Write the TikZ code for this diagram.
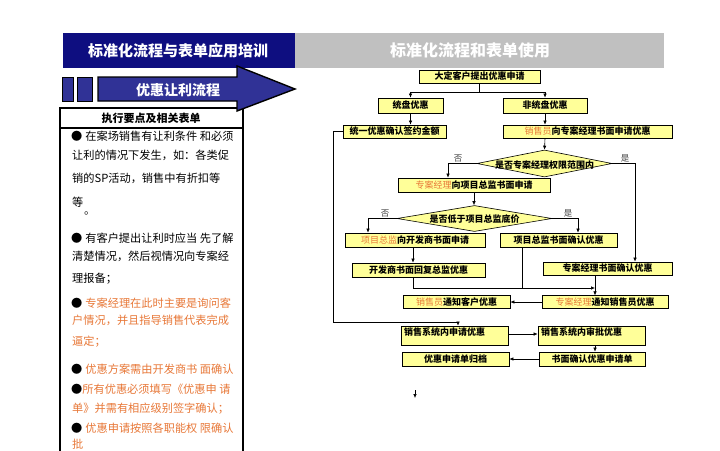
\documentclass[tikz,border=0pt]{standalone}
\usepackage{fontspec}
\setmainfont{Noto Sans CJK SC}
\usetikzlibrary{arrows.meta,shapes.geometric}
\definecolor{hdrblue}{RGB}{14,14,128}
\definecolor{arrblue}{RGB}{48,50,150}
\definecolor{hdrgray}{RGB}{192,192,192}
\definecolor{boxyellow}{RGB}{255,255,153}
\definecolor{hlorange}{RGB}{232,120,56}
\begin{document}
\begin{tikzpicture}[x=1pt,y=-1pt,
  fbox/.style={draw=black, line width=0.7pt, fill=boxyellow, inner sep=0pt,
    font=\fontsize{9}{10}\selectfont\bfseries},
  fdia/.style={diamond, draw=black, line width=0.6pt, fill=boxyellow, inner sep=0pt},
  dtext/.style={font=\fontsize{9}{10}\selectfont\bfseries},
  yn/.style={font=\fontsize{8.5}{9}\selectfont, text=black!75},
  arr/.style={line width=0.6pt, -{Latex[length=4pt,width=3.5pt]}},
  ln/.style={line width=0.6pt},
  ptext/.style={anchor=west, inner sep=0pt, font=\fontsize{11.2}{12}\selectfont},
  hl/.style={text=hlorange}]
\useasboundingbox (0,0) rectangle (720,450);
\fill[white] (0,0) rectangle (720,450);

% headers
\fill[hdrblue] (63,33) rectangle (295,68);
\fill[hdrgray] (295,33) rectangle (664,68);
\node[text=white, font=\fontsize{15}{16}\selectfont\bfseries] (h1) at (178,51) {标准化流程与表单应用培训};
\node[text=white, font=\fontsize{16}{17}\selectfont\bfseries] (h2) at (470,50) {标准化流程和表单使用};

% left panel
\draw[line width=2pt] (60,108) rectangle (243,455);
\draw[line width=1.5pt] (60,128) -- (243,128);
\node[font=\fontsize{11}{12}\selectfont\bfseries] (ph) at (151,118) {执行要点及相关表单};

% squares and arrow
\draw[fill=arrblue, line width=1pt] (62,77) rectangle (73,101);
\draw[fill=arrblue, line width=1pt] (77,77) rectangle (92,101);
\draw[fill=arrblue, line width=1.4pt, line join=miter]
  (98,77) -- (237,77) -- (237,66) -- (295,89) -- (237,111) -- (237,101) -- (98,101) -- cycle;
\node[text=white, font=\fontsize{14}{15}\selectfont\bfseries] (at) at (178,90) {优惠让利流程};

% panel text
\node[ptext] (t1) at (71,136) {●\hspace{3pt}在案场销售有让利条件 和必须};
\node[ptext] (t2) at (72,155) {让利的情况下发生，如：各类促};
\node[ptext] (t3) at (72,178) {销的SP活动，销售中有折扣等};
\node[ptext] (t4) at (72,202) {等};
\node[ptext] (t4b) at (84,213) {。};
\node[ptext] (t5) at (71,238) {●\hspace{3pt}有客户提出让利时应当 先了解};
\node[ptext] (t6) at (72,256) {清楚情况，然后视情况向专案经};
\node[ptext] (t7) at (72,279) {理报备；};
\node[ptext] (t8) at (71,303) {●\hspace{3pt}\textcolor{hlorange}{专案经理在此时主要是询问客}};
\node[ptext,hl] (t9) at (72,320) {户情况，并且指导销售代表完成};
\node[ptext,hl] (t10) at (72,342) {逼定；};
\node[ptext] (t11) at (71,369) {●\hspace{3pt}\textcolor{hlorange}{优惠方案需由开发商书 面确认}};
\node[ptext] (t12) at (71,389) {●\textcolor{hlorange}{所有优惠必须填写《优惠申 请}};
\node[ptext,hl] (t13) at (72,409) {单》并需有相应级别签字确认；};
\node[ptext] (t14) at (71,428) {●\hspace{3pt}\textcolor{hlorange}{优惠申请按照各职能权 限确认}};
\node[ptext,hl] (t15) at (72,444) {批};

% flowchart nodes
\node[fbox, minimum width=121pt, minimum height=13pt] (top) at (479.5,76.5) {大定客户提出优惠申请};
\node[fbox, minimum width=65pt, minimum height=15pt] (tp) at (410.5,105.5) {统盘优惠};
\node[fbox, minimum width=84pt, minimum height=15pt] (ntp) at (545,105.5) {非统盘优惠};
\node[fbox, minimum width=103pt, minimum height=13pt] (ty) at (394.5,131.5) {统一优惠确认签约金额};
\node[fbox, minimum width=169pt, minimum height=13pt] (sa) at (587.5,131.5) {\textcolor{hlorange}{\mdseries 销售员}向专案经理书面申请优惠};
\node[fdia, minimum width=135pt, minimum height=27pt,
  label={[dtext, yshift=-2pt]center:是否专案经理权限范围内}] (d1) at (544.5,163.5) {};
\node[fbox, minimum width=152pt, minimum height=14pt] (pm) at (474,185) {\textcolor{hlorange}{\mdseries 专案经理}向项目总监书面申请};
\node[fdia, minimum width=155pt, minimum height=26pt,
  label={[dtext, yshift=-1pt]center:是否低于项目总监底价}] (d2) at (474.5,218.5) {};
\node[fbox, minimum width=140pt, minimum height=14pt] (dv) at (415,240) {\textcolor{hlorange}{\mdseries 项目总监}向开发商书面申请};
\node[fbox, minimum width=117pt, minimum height=14pt] (dc) at (558.5,240) {项目总监书面确认优惠};
\node[fbox, minimum width=133pt, minimum height=14pt] (dr) at (418.5,270) {开发商书面回复总监优惠};
\node[fbox, minimum width=129pt, minimum height=13pt] (pc) at (607.5,268.5) {专案经理书面确认优惠};
\node[fbox, minimum width=107pt, minimum height=12.5pt] (sn) at (456.5,302) {\textcolor{hlorange}{\mdseries 销售员}通知客户优惠};
\node[fbox, minimum width=126pt, minimum height=12.5pt] (pn) at (605,302) {\textcolor{hlorange}{\mdseries 专案经理}通知销售员优惠};
\node[fbox, text width=101pt, align=left, inner xsep=3pt, inner ysep=1.5pt, text height=8pt, text depth=8pt] (s1) at (454.5,335.5) {销售系统内申请优惠};
\node[fbox, text width=101pt, align=left, inner xsep=3pt, inner ysep=1.5pt, text height=8pt, text depth=8pt] (s2) at (591.5,335.5) {销售系统内审批优惠};
\node[fbox, minimum width=107pt, minimum height=14pt] (ar) at (455.5,359) {优惠申请单归档};
\node[fbox, minimum width=106pt, minimum height=14pt] (wc) at (592,359) {书面确认优惠申请单};

% connectors
\draw[ln] (top.south) -- ++(0,9) coordinate (j1);
\draw[arr] (j1) -| (tp.north);
\draw[arr] (j1) -| (ntp.north);
\draw[arr] (tp.south) -- (tp.south |- ty.north);
\draw[arr] (ntp.south) -- (ntp.south |- sa.north);
\draw[arr] (ntp.south |- sa.south) -- (d1.north);

\coordinate (n1) at (448,163.5);
\draw[arr] (d1.west) -- (n1) -- (n1 |- pm.north);
\node[yn] (no1) at (458,158.5) {否};
\coordinate (y1) at (635,163.5);
\draw[arr] (d1.east) -- (y1) -- (y1 |- pc.north);
\node[yn] (ye1) at (625,158.5) {是};

\draw[arr] (pm.south) -- (pm.south |- d2.north);
\coordinate (n2) at (368,218.5);
\draw[arr] (d2.west) -- (n2) -- (n2 |- dv.north);
\node[yn] (no2) at (385,213.5) {否};
\coordinate (y2) at (578,218.5);
\draw[arr] (d2.east) -- (y2) -- (y2 |- dc.north);
\node[yn] (ye2) at (568,213.5) {是};

\draw[arr] (dv.south -| 413,0) -- (dr.north -| 413,0);
\coordinate (m1) at (595,288);
\coordinate (m2) at (522,288);
\draw[arr] (dr.south -| 413,0) |- (m1);
\draw[ln] (m2 |- dc.south) -- (m2);
\draw[arr] (m1 |- pc.south) -- (m1 |- pn.north);
\draw[arr] (pn.west) -- (sn.east);

\coordinate (lc) at (333,322);
\coordinate (lk) at (458,322);
\draw[ln] (ty.west) -| (lc) -- (lk);
\draw[arr] (lk) -- (lk |- s1.north);

\draw[arr] (s1.east |- 0,334) -- (s2.west |- 0,334);
\draw[arr] (s2.south -| 595,0) -- (wc.north -| 595,0);
\draw[arr] (wc.west) -- (ar.east);

\coordinate (st) at (415,390);
\draw[arr] (st) -- ++(0,8);
\end{tikzpicture}
\end{document}
